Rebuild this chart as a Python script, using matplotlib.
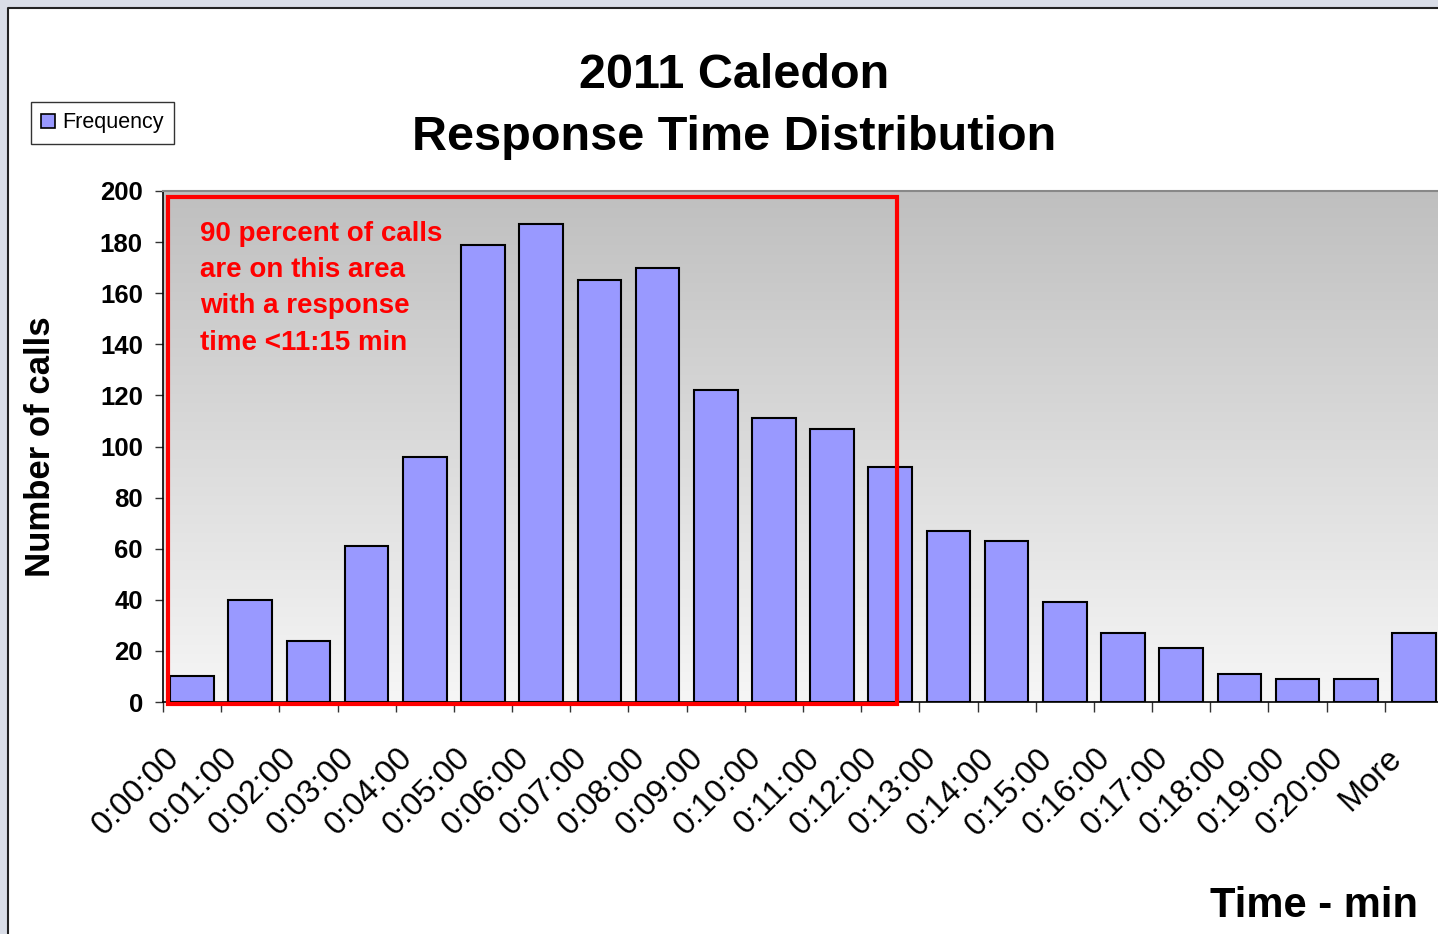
import numpy as np
from matplotlib import pyplot as plt
from matplotlib import transforms
from matplotlib.patches import Rectangle, Patch
from matplotlib.lines import Line2D

plt.rcParams['font.family'] = ['Liberation Sans', 'DejaVu Sans']

time_bins = ["0:00:00", "0:01:00", "0:02:00", "0:03:00", "0:04:00", "0:05:00",
             "0:06:00", "0:07:00", "0:08:00", "0:09:00", "0:10:00", "0:11:00",
             "0:12:00", "0:13:00", "0:14:00", "0:15:00", "0:16:00", "0:17:00",
             "0:18:00", "0:19:00", "0:20:00", "More"]
frequency = [10, 40, 24, 61, 96, 179, 187, 165, 170, 122, 111, 107,
             92, 67, 63, 39, 27, 21, 11, 9, 9, 27]
y_ticks = [0, 20, 40, 60, 80, 100, 120, 140, 160, 180, 200]

W, H = 1438, 934
fig = plt.figure(figsize=(W / 100, H / 100), dpi=100)
fig.patch.set_facecolor("white")

# screenshot frame: grey band on top/left with a dark edge
band = "#d9dde7"
fig.patches.append(Rectangle((0, 1 - 7 / H), 1, 7 / H, transform=fig.transFigure,
                             facecolor=band, edgecolor="none", zorder=0))
fig.patches.append(Rectangle((0, 0), 8 / W, 1, transform=fig.transFigure,
                             facecolor=band, edgecolor="none", zorder=0))
fig.lines.append(Line2D([8 / W, 8 / W, 1], [0, 1 - 7.5 / H, 1 - 7.5 / H],
                        transform=fig.transFigure, color="#222222", lw=1.5))

ax = fig.add_axes([163 / W, 1 - 702 / H, 1280 / W, 511 / H])

# grey-to-white plot area gradient
grad = np.linspace(0.75, 0.965, 256).reshape(-1, 1)
ax.imshow(np.dstack([grad, grad, grad]), extent=(0, 1, 0, 1), transform=ax.transAxes,
          aspect="auto", zorder=0, interpolation="bilinear")

x = np.arange(len(time_bins))
ax.bar(x, frequency, width=0.75, color="#9999ff", edgecolor="black",
       linewidth=1.5, zorder=2)

ax.set_xlim(-0.5, len(time_bins) - 0.5)
ax.set_ylim(0, 200)

ax.set_yticks(y_ticks)
ax.set_yticklabels([str(v) for v in y_ticks], fontsize=18.5, fontweight="bold")
ax.tick_params(axis="y", length=6, width=1, color="#333333", pad=8.5)

ax.set_xticks(np.arange(-0.5, len(time_bins), 1))
ax.set_xticklabels([])
ax.tick_params(axis="x", which="major", length=7.5, width=1, color="#333333")
ax.set_xticks(x, minor=True)
ax.set_xticklabels(time_bins, minor=True, fontsize=23.5, rotation=45, ha="right",
                   va="center", rotation_mode="anchor")
ax.tick_params(axis="x", which="minor", length=0, pad=37)
shift = transforms.ScaledTranslation(-0.17, 0, fig.dpi_scale_trans)
for lbl in ax.get_xticklabels(minor=True):
    lbl.set_transform(lbl.get_transform() + shift)

for side in ["top", "right"]:
    ax.spines[side].set_color("#888888")
    ax.spines[side].set_linewidth(1.5)
for side in ["left", "bottom"]:
    ax.spines[side].set_color("black")
    ax.spines[side].set_linewidth(1.2)
ax.spines["bottom"].set_zorder(3)

ax.set_ylabel("Number of calls", fontsize=25, fontweight="bold")
ax.yaxis.set_label_coords(-0.083, 0.5)

# highlighted 90 percent region
ax.add_patch(Rectangle((5 / 1280, -2 / 511), 729 / 1280, 507 / 511, transform=ax.transAxes,
                       fill=False, edgecolor="red", linewidth=3, zorder=4, clip_on=False))
ax.text(37 / 1280, 0.942, "90 percent of calls\nare on this area\nwith a response\ntime <11:15 min",
        transform=ax.transAxes, color="red", fontsize=20, fontweight="bold",
        ha="left", va="top", linespacing=1.52, zorder=5)

fig.text(734 / W, 1 - 88 / H, "2011 Caledon", fontsize=35, fontweight="bold",
         ha="center", va="baseline")
fig.text(734 / W, 1 - 150 / H, "Response Time Distribution", fontsize=35,
         fontweight="bold", ha="center", va="baseline")
fig.text(1418 / W, 1 - 917 / H, "Time - min", fontsize=30, fontweight="bold",
         ha="right", va="baseline")

leg = fig.legend(handles=[Patch(facecolor="#9999ff", edgecolor="black", linewidth=1.2,
                                label="Frequency")],
                 loc="upper left", bbox_to_anchor=(31 / W, 1 - 102 / H), fontsize=15.5,
                 handlelength=0.65, handleheight=0.65, handletextpad=0.3,
                 borderpad=0.48, borderaxespad=0, fancybox=False)
leg.get_frame().set_edgecolor("black")
leg.get_frame().set_linewidth(1)

fig.savefig("out.png", dpi=100)
